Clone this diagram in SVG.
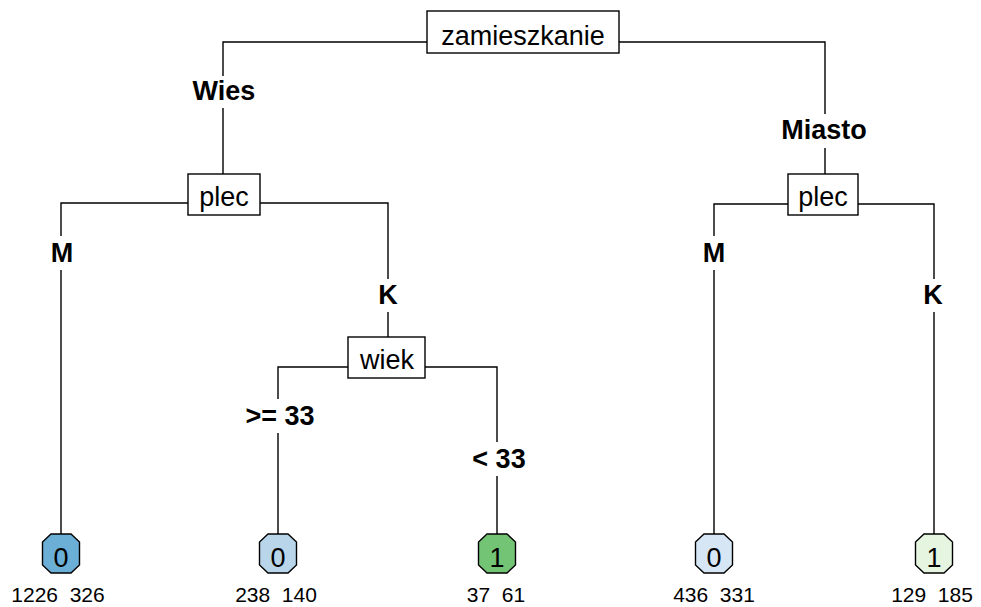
<svg xmlns="http://www.w3.org/2000/svg" width="981" height="607" viewBox="0 0 981 607">
<style>
.bx{fill:#fff;stroke:#000;stroke-width:1.4}
.lf{stroke:#000;stroke-width:1.4}
.ln{fill:none;stroke:#000;stroke-width:1.4}
.t{font-family:"Liberation Sans",Arial,sans-serif;font-size:27px;text-anchor:middle;fill:#000}
.b{font-family:"Liberation Sans",Arial,sans-serif;font-size:27px;font-weight:bold;text-anchor:middle;fill:#000}
.n{font-family:"Liberation Sans",Arial,sans-serif;font-size:21px;text-anchor:middle;fill:#000;white-space:pre}
</style>
<rect width="981" height="607" fill="#fff"/>
<g id="connectors">
<path class="ln" d="M427,42 H223 V76 M223,108 V174"/>
<path class="ln" d="M619,42 H825 V114 M825,148 V174"/>
<path class="ln" d="M188,203 H61 V236 M61,270 V534"/>
<path class="ln" d="M260,203 H388 V279 M388,312 V337"/>
<path class="ln" d="M348,367 H278 V399 M278,433 V534"/>
<path class="ln" d="M425,367 H497 V442 M497,476 V534"/>
<path class="ln" d="M788,204 H714 V236 M714,270 V534"/>
<path class="ln" d="M858,204 H934 V279 M934,312 V534"/>
</g>
<g id="lbl">
<text class="b" x="224" y="100">Wies</text>
<text class="b" x="824" y="139">Miasto</text>
<text class="b" x="62" y="262">M</text>
<text class="b" x="388" y="304">K</text>
<text class="b" x="280" y="425">&gt;= 33</text>
<text class="b" x="499" y="468">&lt; 33</text>
<text class="b" x="714" y="262">M</text>
<text class="b" x="933" y="304">K</text>
</g>
<g id="root"><rect class="bx" x="427" y="11" width="192" height="42"/><text class="t" x="523" y="45">zamieszkanie</text></g>
<g id="plec1"><rect class="bx" x="188" y="174" width="72" height="41"/><text class="t" x="224" y="206">plec</text></g>
<g id="plec2"><rect class="bx" x="788" y="174" width="70" height="41"/><text class="t" x="823" y="206">plec</text></g>
<g id="wiek"><rect class="bx" x="348" y="337" width="77" height="41"/><text class="t" x="387" y="369">wiek</text></g>
<g id="leaf1"><path class="lf" fill="#6baed6" d="M51,534 H71 L79.5,542 V565 L71,573 H51 L42.5,565 V542 Z"/><text class="t" x="61" y="567">0</text><text class="n" x="58" y="602">1226  326</text></g>
<g id="leaf2"><path class="lf" fill="#b8d5ea" d="M268,534 H288 L296.5,542 V565 L288,573 H268 L259.5,565 V542 Z"/><text class="t" x="278" y="567">0</text><text class="n" x="276" y="602">238  140</text></g>
<g id="leaf3"><path class="lf" fill="#74c476" d="M487,534 H507 L515.5,542 V565 L507,573 H487 L478.5,565 V542 Z"/><text class="t" x="497" y="567">1</text><text class="n" x="496" y="602">37  61</text></g>
<g id="leaf4"><path class="lf" fill="#d6e6f5" d="M704,534 H724 L732.5,542 V565 L724,573 H704 L695.5,565 V542 Z"/><text class="t" x="714" y="567">0</text><text class="n" x="714" y="602">436  331</text></g>
<g id="leaf5"><path class="lf" fill="#e5f5e0" d="M924,534 H944 L952.5,542 V565 L944,573 H924 L915.5,565 V542 Z"/><text class="t" x="934" y="567">1</text><text class="n" x="932" y="602">129  185</text></g>
</svg>
